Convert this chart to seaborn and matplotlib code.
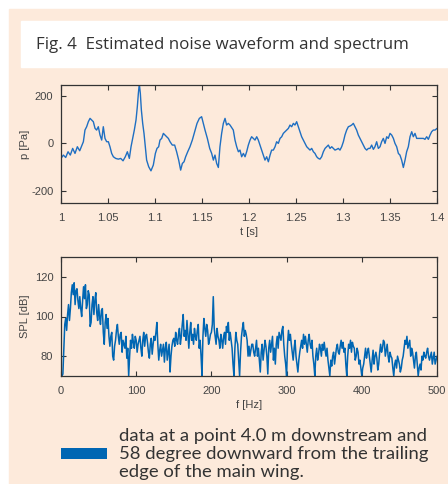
import matplotlib
matplotlib.use("Agg")
import matplotlib.pyplot as plt
from matplotlib.patches import Rectangle, Patch
import numpy as np
import pandas as pd
import seaborn as sns

# --- data --------------------------------------------------------------
TIME_S = [
    1.0000, 1.0025, 1.0050, 1.0075, 1.0099, 1.0124, 1.0149, 1.0174, 1.0199, 1.0223,
    1.0238, 1.0255, 1.0273, 1.0291, 1.0309, 1.0326, 1.0344, 1.0362, 1.0379, 1.0397,
    1.0415, 1.0433, 1.0450, 1.0468, 1.0486, 1.0504, 1.0521, 1.0539, 1.0557, 1.0582,
    1.0610, 1.0635, 1.0660, 1.0684, 1.0706, 1.0727, 1.0745, 1.0762, 1.0780, 1.0798,
    1.0812, 1.0823, 1.0833, 1.0844, 1.0855, 1.0869, 1.0883, 1.0897, 1.0911, 1.0933,
    1.0957, 1.0982, 1.1004, 1.1021, 1.1039, 1.1053, 1.1071, 1.1089, 1.1106, 1.1124,
    1.1142, 1.1160, 1.1184, 1.1209, 1.1230, 1.1252, 1.1273, 1.1291, 1.1309, 1.1326,
    1.1348, 1.1372, 1.1397, 1.1422, 1.1447, 1.1472, 1.1496, 1.1514, 1.1532, 1.1557,
    1.1582, 1.1603, 1.1621, 1.1638, 1.1656, 1.1674, 1.1691, 1.1709, 1.1727, 1.1745,
    1.1762, 1.1780, 1.1798, 1.1833, 1.1851, 1.1869, 1.1887, 1.1904, 1.1922, 1.1940,
    1.1958, 1.1975, 1.1993, 1.2011, 1.2028, 1.2046, 1.2064, 1.2082, 1.2099, 1.2117,
    1.2135, 1.2153, 1.2170, 1.2188, 1.2206, 1.2224, 1.2241, 1.2259, 1.2277, 1.2294,
    1.2312, 1.2330, 1.2348, 1.2365, 1.2383, 1.2401, 1.2419, 1.2436, 1.2454, 1.2472,
    1.2489, 1.2507, 1.2525, 1.2543, 1.2560, 1.2578, 1.2596, 1.2614, 1.2631, 1.2649,
    1.2667, 1.2685, 1.2702, 1.2720, 1.2738, 1.2755, 1.2773, 1.2791, 1.2809, 1.2826,
    1.2844, 1.2862, 1.2880, 1.2897, 1.2915, 1.2933, 1.2950, 1.2968, 1.2986, 1.3004,
    1.3021, 1.3039, 1.3057, 1.3075, 1.3092, 1.3110, 1.3128, 1.3145, 1.3163, 1.3181,
    1.3199, 1.3216, 1.3234, 1.3252, 1.3270, 1.3287, 1.3305, 1.3323, 1.3340, 1.3358,
    1.3376, 1.3394, 1.3411, 1.3429, 1.3447, 1.3465, 1.3482, 1.3500, 1.3518, 1.3536,
    1.3553, 1.3571, 1.3589, 1.3606, 1.3624, 1.3642, 1.3660, 1.3677, 1.3695, 1.3713,
    1.3731, 1.3748, 1.3766, 1.3784, 1.3801, 1.3819, 1.3837, 1.3855, 1.3872, 1.3890,
    1.3908, 1.3926, 1.3943, 1.3961, 1.3979, 1.4000,
]
PRESSURE_PA = [
    -63, -49, -59, -35, -49, -21, -42, -14, -31, -7,
    7, 56, 70, 91, 105, 98, 91, 63, 56, 70,
    35, 14, 70, 21, 7, 7, -14, -42, -56, -63,
    -66, -63, -73, -56, -35, -63, -14, 21, 56, 98,
    154, 210, 250, 210, 140, 84, 42, -14, -70, -98,
    -115, -91, -42, -21, -14, 14, 21, 42, 35, 28,
    21, 7, -7, -7, -35, -70, -112, -84, -77, -56,
    -35, -14, 14, 49, 84, 105, 112, 84, 56, 21,
    -21, -42, -70, -49, -84, -101, -14, 42, 84, 105,
    77, 84, 77, 56, 14, -14, -35, -28, -56, -42,
    -56, -35, -7, 14, 28, 21, 14, 28, 14, -7,
    -28, -49, -70, -56, -77, -49, -28, -28, -14, 7,
    0, 21, 28, 42, 49, 56, 63, 77, 70, 84,
    77, 91, 70, 49, 28, 14, 0, -14, -21, -28,
    -21, -35, -42, -56, -63, -66, -56, -35, -21, -14,
    -7, -21, -14, -21, -28, -25, -21, -28, -14, 7,
    35, 56, 70, 73, 77, 84, 70, 56, 35, 21,
    7, -7, -21, -28, -21, -21, -7, -25, -14, 7,
    -21, -14, 7, 21, 0, 28, 21, 42, 35, 21,
    0, -14, -42, -49, -70, -101, -70, -35, -14, 28,
    49, 28, 42, 21, 21, 21, 21, 21, 17, 28,
    17, 35, 49, 56, 56, 63,
]

# spectrum: readings on a 1.25 Hz grid, split into the 2.5 Hz bins
# and the readings halfway between them
FREQ_HZ = np.arange(0, 501.25, 1.25)
SPL_DB_BINS = [
    70, 71, 96, 93, 106, 104, 116, 117, 113, 108,
    110, 100, 115, 116, 106, 111, 97, 110, 108, 102,
    106, 96, 104, 86, 101, 99, 85, 92, 78, 88,
    96, 86, 92, 88, 84, 79, 70, 88, 91, 84,
    88, 86, 90, 80, 92, 90, 87, 79, 89, 86,
    88, 97, 78, 86, 83, 77, 87, 82, 72, 85,
    89, 92, 86, 94, 90, 101, 93, 98, 84, 97,
    91, 94, 88, 96, 88, 70, 99, 90, 93, 88,
    92, 110, 90, 94, 88, 91, 84, 92, 95, 97,
    92, 84, 70, 92, 86, 70, 90, 97, 93, 88,
    85, 83, 86, 80, 88, 84, 72, 86, 83, 85,
    71, 88, 86, 78, 76, 90, 92, 88, 95, 80,
    70, 93, 91, 82, 84, 80, 72, 82, 88, 91,
    90, 82, 91, 84, 80, 70, 84, 81, 84, 86,
    87, 80, 78, 70, 75, 82, 80, 86, 81, 88,
    87, 84, 70, 86, 88, 87, 84, 80, 82, 78,
    70, 76, 84, 82, 80, 72, 83, 80, 79, 76,
    86, 84, 87, 83, 80, 82, 79, 70, 78, 80,
    76, 74, 80, 88, 90, 86, 80, 82, 74, 82,
    70, 76, 80, 82, 79, 84, 78, 82, 79, 76,
    80,
]
SPL_DB_MIDS = [
    70, 84, 99, 101, 98, 112, 111, 106, 114, 104,
    104, 108, 109, 104, 113, 95, 106, 101, 112, 98,
    100, 103, 92, 97, 94, 90, 90, 80, 85, 93,
    90, 91, 82, 86, 90, 84, 80, 84, 87, 90,
    82, 88, 84, 88, 85, 91, 82, 86, 81, 90,
    92, 86, 83, 80, 86, 84, 78, 86, 80, 88,
    85, 88, 91, 86, 96, 90, 88, 91, 92, 88,
    86, 90, 93, 84, 80, 90, 94, 96, 86, 91,
    96, 94, 86, 90, 84, 88, 90, 86, 92, 88,
    88, 76, 84, 88, 78, 82, 94, 90, 91, 80,
    80, 86, 82, 84, 80, 78, 82, 78, 88, 80,
    84, 82, 90, 84, 86, 84, 90, 93, 86, 76,
    86, 88, 86, 78, 88, 76, 78, 85, 84, 86,
    86, 88, 86, 88, 76, 80, 78, 86, 80, 83,
    83, 84, 74, 78, 80, 76, 84, 82, 85, 84,
    82, 76, 80, 84, 82, 85, 78, 84, 76, 74,
    74, 80, 79, 84, 76, 78, 76, 82, 73, 82,
    82, 88, 80, 86, 77, 80, 74, 76, 74, 78,
    72, 78, 84, 86, 84, 88, 84, 78, 80, 76,
    74, 73, 78, 80, 82, 80, 80, 76, 82, 78,
]

TITLE = "Fig. 4  Estimated noise waveform and spectrum"
LEGEND_TEXT = ("data at a point 4.0 m downstream and\n"
               "58 degree downward from the trailing\n"
               "edge of the main wing.")

PEACH = "#fdeadb"
LINE_BLUE = "#1f6fc2"
SPEC_BLUE = "#0066b3"
LABEL_GREY = "#444444"
W, H = 448, 484

sns.set_style("ticks")
plt.rcParams.update({
    "font.family": ["Liberation Sans", "DejaVu Sans"],
    "axes.unicode_minus": False,
    "xtick.direction": "in",
    "ytick.direction": "in",
    "xtick.top": True,
    "ytick.right": True,
    "xtick.major.size": 3.5,
    "ytick.major.size": 3.5,
    "xtick.major.pad": 7,
    "ytick.major.pad": 5.5,
    "xtick.color": "#333333",
    "ytick.color": "#333333",
    "xtick.labelcolor": LABEL_GREY,
    "ytick.labelcolor": LABEL_GREY,
    "xtick.labelsize": 8,
    "ytick.labelsize": 8,
    "axes.edgecolor": "#333333",
    "axes.linewidth": 0.9,
})

spl = np.empty(len(FREQ_HZ))
spl[0::2] = SPL_DB_BINS
spl[1::2] = SPL_DB_MIDS

wave_df = pd.DataFrame({"t": TIME_S, "p": PRESSURE_PA})
spec_df = pd.DataFrame({"f": FREQ_HZ, "spl": spl})

fig = plt.figure(figsize=(W / 100, H / 100), dpi=100, facecolor="white")

# peach panel and white title strip
fig.patches.append(Rectangle((9 / W, 0), 1 - 9 / W, 1 - 9 / H,
                             transform=fig.transFigure, color=PEACH, zorder=-2))
fig.patches.append(Rectangle((21 / W, 1 - 67 / H), 1 - 21 / W, 46 / H,
                             transform=fig.transFigure, color="white", zorder=-1))
fig.text(36 / W, 1 - 45 / H, TITLE, fontsize=12.2, color="#333333",
         family=["Open Sans", "DejaVu Sans"], va="center", ha="left")

ax1 = fig.add_axes([61 / W, 1 - 203 / H, 376 / W, 118 / H])
ax2 = fig.add_axes([61 / W, 1 - 376 / H, 376 / W, 119 / H])
for ax in (ax1, ax2):
    ax.set_facecolor("none")

sns.lineplot(data=wave_df, x="t", y="p", ax=ax1, color=LINE_BLUE,
             linewidth=1.0, estimator=None, sort=False)
ax1.set_xlim(1, 1.4)
ax1.set_ylim(-250, 245)
ax1.set_xticks([1, 1.05, 1.1, 1.15, 1.2, 1.25, 1.3, 1.35, 1.4])
ax1.set_xticklabels(["1", "1.05", "1.1", "1.15", "1.2", "1.25", "1.3", "1.35", "1.4"])
ax1.set_yticks([-200, 0, 200])
ax1.set_xlabel("t [s]", fontsize=8, color=LABEL_GREY)
ax1.set_ylabel("p [Pa]", fontsize=8, color=LABEL_GREY)
ax1.xaxis.set_label_coords(0.5, -0.205)
ax1.yaxis.set_label_coords(-0.082, 0.5)

sns.lineplot(data=spec_df, x="f", y="spl", ax=ax2, color=SPEC_BLUE,
             linewidth=1.1, estimator=None, sort=False)
ax2.set_xlim(0, 500)
ax2.set_ylim(70, 130)
ax2.set_xticks([0, 100, 200, 300, 400, 500])
ax2.set_yticks([80, 100, 120])
ax2.set_xlabel("f [Hz]", fontsize=8, color=LABEL_GREY)
ax2.set_ylabel("SPL [dB]", fontsize=8, color=LABEL_GREY)
ax2.xaxis.set_label_coords(0.5, -0.205)
ax2.yaxis.set_label_coords(-0.082, 0.5)

handle = Patch(facecolor=SPEC_BLUE, edgecolor="none")
leg = fig.legend(handles=[handle], labels=[LEGEND_TEXT], loc="center left",
                 bbox_to_anchor=(61 / W, 1 - 454 / H), frameon=False,
                 prop={"family": ["Lato", "DejaVu Sans"], "size": 13.3},
                 labelcolor="#333333", handlelength=2.5, handleheight=0.54,
                 handletextpad=0.66, borderaxespad=0, borderpad=0)
for txt in leg.get_texts():
    txt.set_linespacing(1.12)

fig.savefig("out.png", dpi=100, facecolor="white")
